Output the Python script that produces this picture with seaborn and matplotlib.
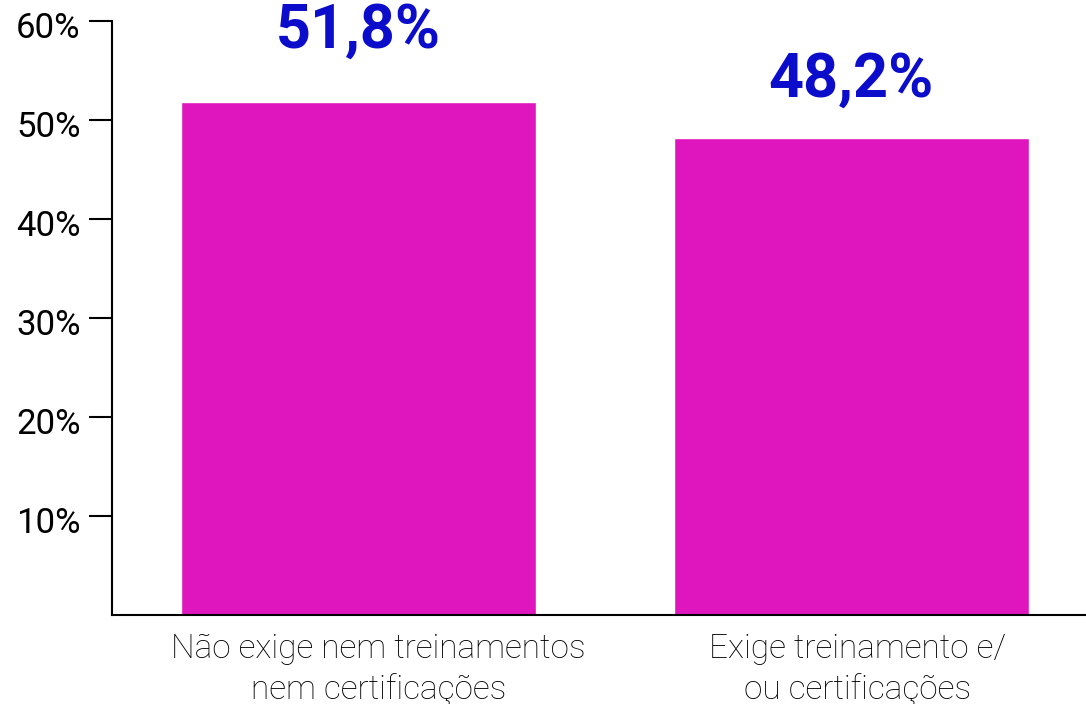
import matplotlib
matplotlib.use("Agg")
import matplotlib.pyplot as plt
import matplotlib.transforms as mtransforms
import seaborn as sns
import pandas as pd

categories = ["Não exige nem treinamentos\nnem certificações",
              "Exige treinamento e/\nou certificações"]
values = [51.8, 48.2]
value_labels = ["51,8%", "48,2%"]
yticks = [10, 20, 30, 40, 50, 60]
ytick_labels = ["10%", "20%", "30%", "40%", "50%", "60%"]

sns.set_theme(style="white")
plt.rcParams["font.family"] = ["Roboto", "DejaVu Sans"]

df = pd.DataFrame({"cat": categories, "val": values})

fig = plt.figure(figsize=(10.86, 7.04), dpi=100)
ax = fig.add_axes([0.1031, 0.1264, 0.8969, 0.8438])

sns.barplot(data=df, x="cat", y="val", color="#DF16BE", width=0.72,
            saturation=1, ax=ax)

ax.set_xlim(-0.5, 1.476)
ax.set_ylim(0, 60)
ax.set_yticks(yticks)
ax.set_yticklabels(ytick_labels, fontsize=25, color="black")
ax.set_xlabel("")
ax.set_ylabel("")
ax.tick_params(axis="y", length=16.5, width=1.5, color="black", pad=6, left=True)
ax.tick_params(axis="x", length=0, pad=13)

# nudge y tick labels slightly downward
ydrop = mtransforms.ScaledTranslation(0, -0.04, fig.dpi_scale_trans)
for lbl in ax.get_yticklabels():
    lbl.set_transform(lbl.get_transform() + ydrop)

# category labels, each with a small horizontal nudge
x_nudge = [0.20, 0.06]
for lbl, dx in zip(ax.get_xticklabels(), x_nudge):
    lbl.set_fontsize(24)
    lbl.set_fontweight("light")
    lbl.set_color("black")
    lbl.set_linespacing(1.3)
    lbl.set_transform(lbl.get_transform()
                      + mtransforms.ScaledTranslation(dx, 0, fig.dpi_scale_trans))

for side in ["top", "right"]:
    ax.spines[side].set_visible(False)
for side in ["left", "bottom"]:
    ax.spines[side].set_color("black")
    ax.spines[side].set_linewidth(1.5)

# value labels above each bar
offsets = [39, 29.5]
for i, (v, txt) in enumerate(zip(values, value_labels)):
    ax.annotate(txt, xy=(i, v), xytext=(0, offsets[i]), textcoords="offset points",
                ha="center", va="baseline", fontsize=44, fontweight="bold",
                color="#0C0CCB", annotation_clip=False)

fig.savefig("out.png", dpi=100)
